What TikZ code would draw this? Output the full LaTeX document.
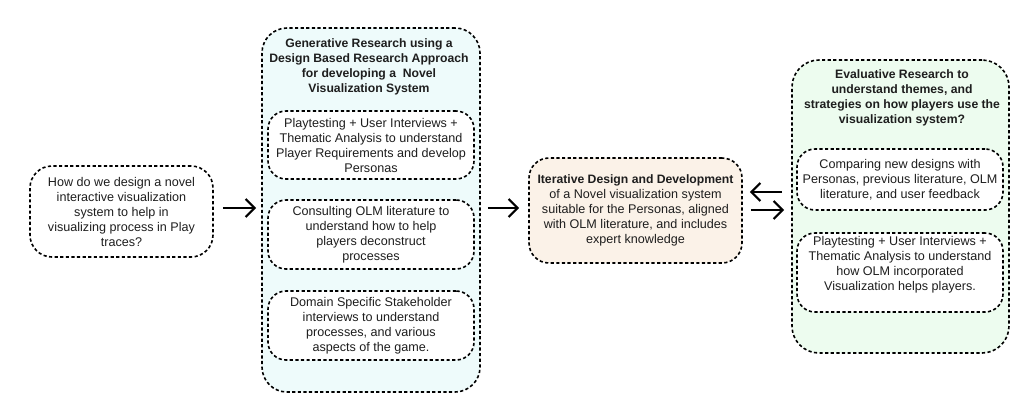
\documentclass[tikz,border=0pt]{standalone}
\usepackage{fontspec}
\setmainfont{Liberation Sans}
\usetikzlibrary{arrows.meta,calc}
\definecolor{txt}{HTML}{1E1E1E}
\definecolor{bluefill}{HTML}{EEFBFB}
\definecolor{beigefill}{HTML}{FBF2E8}
\definecolor{greenfill}{HTML}{EDFCEF}
\begin{document}
\begin{tikzpicture}[x=1pt,y=-1pt,
  dbox/.style={draw=black, line width=1.6pt, dash pattern=on 3.2pt off 2.4pt,
    rounded corners=22pt, inner sep=0pt, align=center, text=txt,
    font=\fontsize{12.6}{15}\selectfont},
  subbox/.style={dbox, rounded corners=18pt, fill=white, minimum width=206pt},
  ttl/.style={inner sep=0pt, align=center, text=txt,
    font=\fontsize{12.2}{15}\selectfont\bfseries},
  arr/.style={line width=2.2pt, -{Straight Barb[length=9pt,width=18pt]}}]
\useasboundingbox (0,0) rectangle (1024,416);
% left question
\node[dbox, minimum width=183pt, minimum height=91pt] (q) at (121.5,211.5)
  {How do we design a novel\\interactive visualization\\system to help in\\visualizing process in Play\\traces?};
% generative research container
\node[dbox, fill=bluefill, rounded corners=25pt, minimum width=218pt, minimum height=364pt] (gen) at (371,210) {};
\node[ttl] (gent) at (369,66.5) {Generative Research using a\\Design Based Research Approach\\for developing a~~Novel\\Visualization System};
\node[subbox, minimum height=68pt] (g1) at (371,145)
  {Playtesting + User Interviews +\\Thematic Analysis to understand\\Player Requirements and develop\\Personas};
\node[subbox, minimum height=69pt] (g2) at (371,234.5)
  {Consulting OLM literature to\\understand how to help\\players deconstruct\\processes};
\node[subbox, minimum height=69pt] (g3) at (371,325.5)
  {Domain Specific Stakeholder\\interviews to understand\\processes, and various\\aspects of the game.};
% middle
\node[dbox, fill=beigefill, rounded corners=20pt, minimum width=213pt, minimum height=105pt] (mid) at (635.5,210.5)
  {\textbf{\fontsize{12.2}{15}\selectfont Iterative Design and Development}\\of a Novel visualization system\\suitable for the Personas, aligned\\with OLM literature, and includes\\expert knowledge};
% evaluative container
\node[dbox, fill=greenfill, rounded corners=27pt, minimum width=217pt, minimum height=293pt] (eval) at (900.5,206.5) {};
\node[ttl] (evalt) at (902,97.5) {Evaluative Research to\\understand themes, and\\strategies on how players use the\\visualization system?};
\node[subbox, minimum height=61pt] (e1) at (900,179.5)
  {Comparing new designs with\\Personas, previous literature, OLM\\literature, and user feedback};
\node[subbox, minimum height=79pt] (e2) at (900,272.5)
  {Playtesting + User Interviews +\\Thematic Analysis to understand\\how OLM incorporated\\Visualization helps players.\\[3pt]};
% arrows
\draw[arr] ($(q.east)+(9,-3.5)$) -- ($(gen.west)+(-5,-2)$);
\draw[arr] ($(gen.east)+(7,-2)$) -- ($(mid.west)+(-9,-2.5)$);
\draw[arr] ($(eval.west)+(-9,-14.5)$) -- ($(mid.east)+(7,-18.5)$);
\draw[arr] ($(mid.east)+(8,-0.5)$) -- ($(eval.west)+(-7,3.5)$);
\end{tikzpicture}
\end{document}
